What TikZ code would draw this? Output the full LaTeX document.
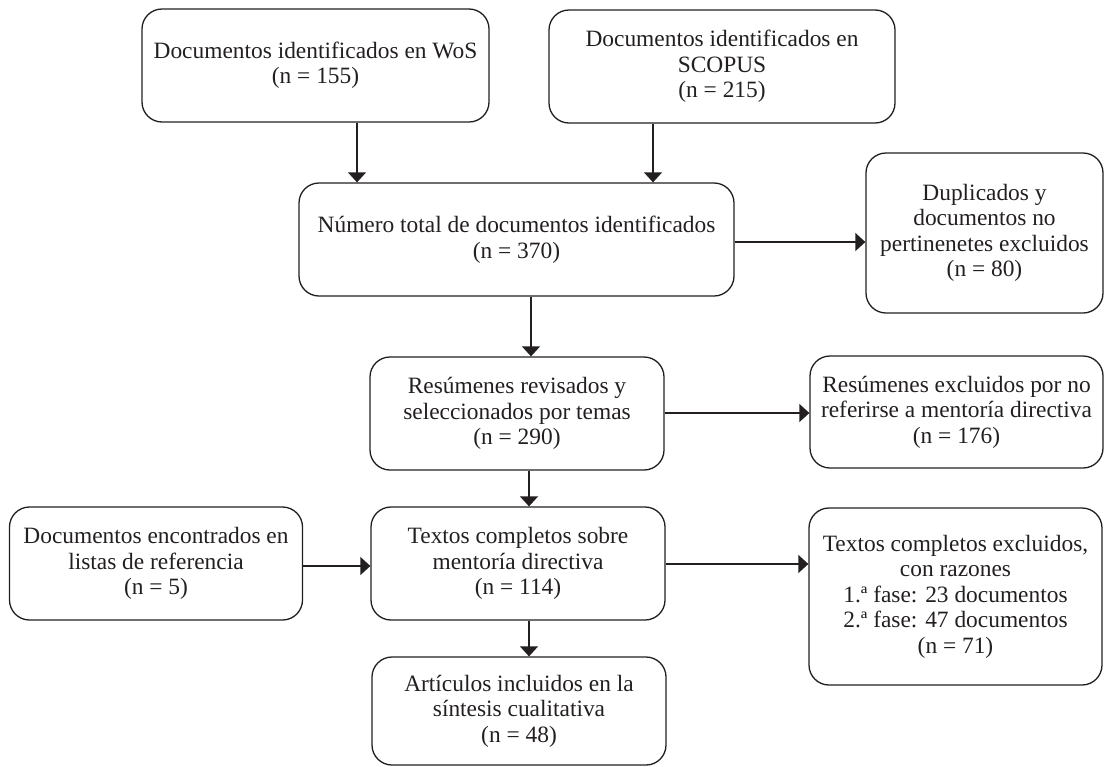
\documentclass[tikz,border=0pt]{standalone}
\usepackage{fontspec}
\setmainfont{Liberation Serif}
\usetikzlibrary{arrows.meta}
\definecolor{ink}{RGB}{35,31,32}
\begin{document}
\begin{tikzpicture}[x=1pt,y=-1pt,
 box/.style={draw=ink, line width=1.3pt, rounded corners=20pt, inner sep=0pt, align=center, text=ink, font=\fontsize{23.4}{25.5}\selectfont},
 arr/.style={draw=ink, line width=1.3pt, -{Triangle[length=10pt,width=18pt]}}]
\useasboundingbox (0,0) rectangle (1105,766);
\node[box, minimum width=347pt, minimum height=113pt] (wos) at (315.5,65.5) {Documentos identificados en WoS\\(n = 155)};
\node[box, minimum width=346pt, minimum height=113pt] (sco) at (722,66.5) {Documentos identificados en\\SCOPUS\\(n = 215)};
\node[box, minimum width=435pt, minimum height=113pt] (tot) at (516.5,239.5) {Número total de documentos identificados\\(n = 370)};
\node[box, minimum width=237pt, minimum height=160pt] (dup) at (984.5,233) {Duplicados y\\documentos no\\pertinenetes excluidos\\(n = 80)};
\node[box, minimum width=294pt, minimum height=113pt] (res) at (517,413.5) {Resúmenes revisados y\\seleccionados por temas\\(n = 290)};
\node[box, minimum width=293pt, minimum height=112pt] (rex) at (956.5,412) {Resúmenes excluidos por no\\referirse a mentoría directiva\\(n = 176)};
\node[box, minimum width=293pt, minimum height=113pt] (doc) at (156,563.5) {Documentos encontrados en\\listas de referencia\\(n = 5)};
\node[box, minimum width=294pt, minimum height=113pt] (txt) at (518,563.5) {Textos completos sobre\\mentoría directiva\\(n = 114)};
\node[box, minimum width=293pt, minimum height=177pt] (tex) at (955.5,596.5) {Textos completos excluidos,\\con razones\\1.ª fase: 23 documentos\\2.ª fase: 47 documentos\\(n = 71)};
\node[box, minimum width=294pt, minimum height=108pt] (art) at (519,711) {Artículos incluidos en la\\síntesis cualitativa\\(n = 48)};
\coordinate (xa) at (357,0);
\coordinate (xb) at (653,0);
\coordinate (xc) at (531,0);
\coordinate (xd) at (529,0);
\coordinate (ya) at (0,242);
\coordinate (yb) at (0,413);
\coordinate (yc) at (0,566);
\coordinate (yd) at (0,564);
\draw[arr] (wos.south -| xa) -- (tot.north -| xa);
\draw[arr] (sco.south -| xb) -- (tot.north -| xb);
\draw[arr] (tot.south -| xc) -- (res.north -| xc);
\draw[arr] (res.south -| xd) -- (txt.north -| xd);
\draw[arr] (txt.south -| xd) -- (art.north -| xd);
\draw[arr] (tot.east |- ya) -- (dup.west |- ya);
\draw[arr] (res.east |- yb) -- (rex.west |- yb);
\draw[arr] (doc.east |- yc) -- (txt.west |- yc);
\draw[arr] (txt.east |- yd) -- (tex.west |- yd);
\end{tikzpicture}
\end{document}
